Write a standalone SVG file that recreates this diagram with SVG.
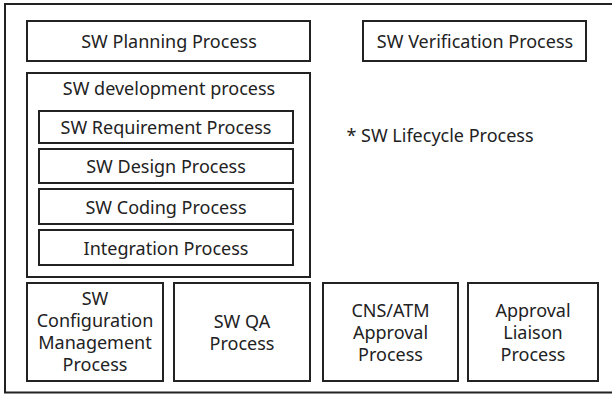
<svg xmlns="http://www.w3.org/2000/svg" width="612" height="394" viewBox="0 0 612 394">
<style>
rect.b{fill:#fff;stroke:#222;stroke-width:2}
text{font-family:"Noto Sans","Open Sans",sans-serif;font-size:18px;fill:#222;text-anchor:middle}
</style>
<rect x="0" y="0" width="612" height="394" fill="#fff"/>
<path d="M614 4 H5 V392.5 H614" fill="none" stroke="#222" stroke-width="2"/>
<g id="planning"><rect class="b" x="27" y="21" width="283" height="40"/><text x="169" y="48">SW Planning Process</text></g>
<g id="verification"><rect class="b" x="363" y="21" width="223" height="40"/><text x="475" y="48">SW Verification Process</text></g>
<g id="lifecycle"><text x="440" y="142">* SW Lifecycle Process</text></g>
<g id="development"><rect class="b" x="27" y="73" width="283" height="204"/><text x="169" y="95">SW development process</text>
<g id="requirement"><rect class="b" x="39" y="111" width="254" height="32"/><text x="166" y="134">SW Requirement Process</text></g>
<g id="design"><rect class="b" x="39" y="149" width="254" height="34"/><text x="166" y="173">SW Design Process</text></g>
<g id="coding"><rect class="b" x="39" y="189" width="254" height="35"/><text x="166" y="214">SW Coding Process</text></g>
<g id="integration"><rect class="b" x="39" y="230" width="254" height="35"/><text x="166" y="255">Integration Process</text></g>
</g>
<g id="config"><rect class="b" x="27" y="283" width="136" height="98"/><text x="95" y="305">SW</text><text x="95" y="327">Configuration</text><text x="95" y="349">Management</text><text x="95" y="371">Process</text></g>
<g id="qa"><rect class="b" x="174" y="283" width="136" height="98"/><text x="242" y="328">SW QA</text><text x="242" y="350">Process</text></g>
<g id="cns"><rect class="b" x="323" y="283" width="135" height="98"/><text x="390.5" y="317">CNS/ATM</text><text x="390.5" y="339">Approval</text><text x="390.5" y="361">Process</text></g>
<g id="liaison"><rect class="b" x="468" y="283" width="130" height="98"/><text x="533" y="317">Approval</text><text x="533" y="339">Liaison</text><text x="533" y="361">Process</text></g>
<g id="connectors"></g>
</svg>
